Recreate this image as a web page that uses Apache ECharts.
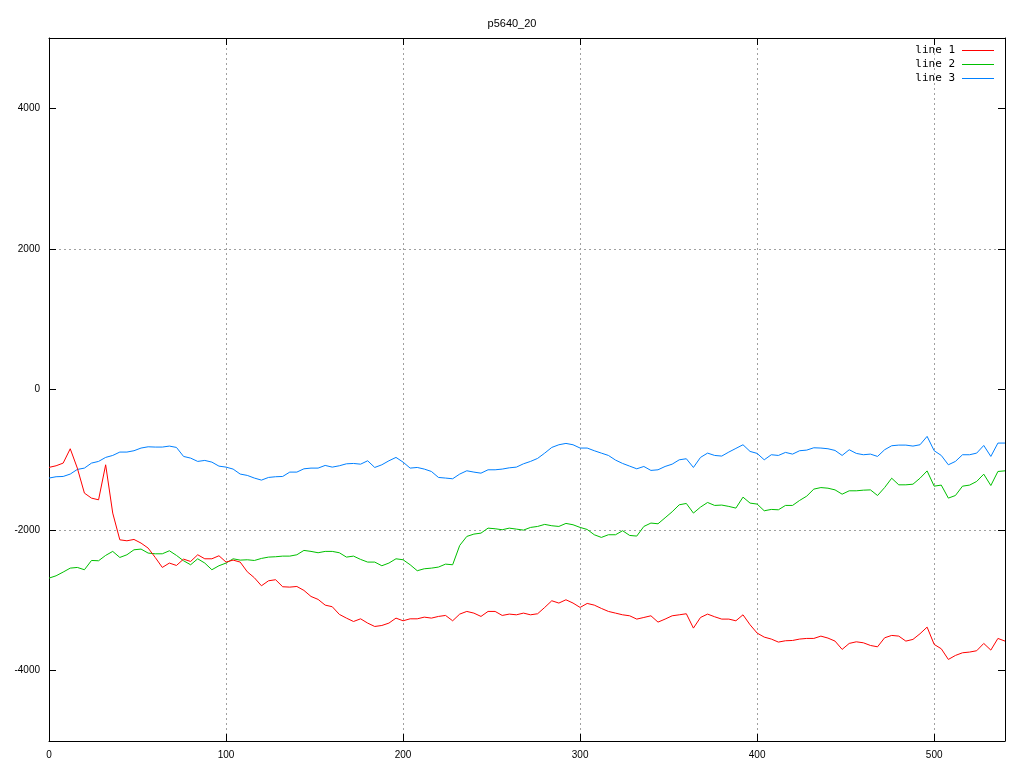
<!DOCTYPE html>
<html>
<head>
<meta charset="utf-8">
<script src="https://cdn.jsdelivr.net/npm/echarts@6/dist/echarts.min.js"></script>
<style>html,body{margin:0;padding:0;background:#fff}#c{width:1024px;height:768px}</style>
</head>
<body>
<div id="c"></div>
<script>
var title = 'p5640_20';
var seriesNames = ['line 1', 'line 2', 'line 3'];
var xTicks = [0, 100, 200, 300, 400, 500];
var yTicks = [-4000, -2000, 0, 2000, 4000];
var xs = [0,4,8,12,16,20,24,28,32,36,40,44,48,52,56,60,64,68,72,76,80,84,88,92,96,100,104,
108,112,116,120,124,128,132,136,140,144,148,152,156,160,164,168,172,176,180,184,188,192,196,200,204,208,212,
216,220,224,228,232,236,240,244,248,252,256,260,264,268,272,276,280,284,288,292,296,300,304,308,312,316,320,
324,328,332,336,340,344,348,352,356,360,364,368,372,376,380,384,388,392,396,400,404,408,412,416,420,424,428,
432,436,440,444,448,452,456,460,464,468,472,476,480,484,488,492,496,500,504,508,512,516,520,524,528,532,536,540];
var line1 = [-1108,-1085,-1047,-843,-1118,-1474,-1545,-1569,-1071,-1758,-2138,-2152,-2133,-2185,-2256,-2389,-2531,-2469,-2503,-2413,-2446,-2351,-2408,-2408,-2365,-2455,-2427,
-2455,-2593,-2678,-2792,-2721,-2706,-2806,-2811,-2802,-2858,-2944,-2986,-3067,-3090,-3199,-3252,-3300,-3262,-3323,-3371,-3357,-3323,-3252,-3290,-3262,-3262,-3238,
-3252,-3228,-3214,-3290,-3195,-3157,-3181,-3228,-3157,-3157,-3214,-3195,-3205,-3181,-3205,-3190,-3100,-3005,-3038,-2991,-3038,-3100,-3043,-3067,-3114,-3157,-3181,
-3205,-3219,-3266,-3243,-3219,-3309,-3266,-3219,-3205,-3190,-3394,-3243,-3195,-3233,-3266,-3266,-3290,-3205,-3347,-3465,-3522,-3550,-3593,-3574,-3570,-3550,-3541,
-3541,-3508,-3536,-3579,-3697,-3612,-3589,-3603,-3641,-3660,-3532,-3498,-3508,-3579,-3555,-3474,-3380,-3626,-3688,-3840,-3783,-3745,-3735,-3716,-3612,-3707,-3541,-3579];
var line2 = [-2683,-2650,-2597,-2541,-2531,-2564,-2432,-2436,-2360,-2303,-2389,-2351,-2280,-2270,-2327,-2337,-2337,-2294,-2360,-2436,-2493,-2408,-2469,-2564,-2507,-2469,-2408,
-2427,-2422,-2432,-2403,-2384,-2379,-2370,-2370,-2351,-2289,-2303,-2322,-2303,-2303,-2322,-2384,-2370,-2417,-2455,-2455,-2507,-2469,-2408,-2422,-2493,-2578,-2550,
-2541,-2526,-2484,-2493,-2218,-2090,-2057,-2043,-1972,-1981,-1995,-1972,-1986,-2000,-1962,-1948,-1919,-1938,-1948,-1905,-1924,-1962,-1991,-2066,-2104,-2066,-2066,
-2009,-2076,-2085,-1948,-1900,-1910,-1825,-1739,-1640,-1621,-1758,-1673,-1607,-1649,-1644,-1663,-1687,-1531,-1616,-1630,-1725,-1706,-1711,-1649,-1649,-1578,-1517,
-1417,-1395,-1404,-1428,-1489,-1441,-1441,-1432,-1428,-1508,-1395,-1262,-1356,-1356,-1347,-1262,-1158,-1375,-1360,-1545,-1508,-1375,-1360,-1308,-1204,-1366,-1166,-1157];
var line3 = [-1260,-1241,-1237,-1203,-1137,-1118,-1047,-1023,-966,-938,-890,-890,-871,-833,-815,-819,-819,-805,-824,-952,-976,-1023,-1009,-1033,-1090,-1104,-1132,
-1203,-1222,-1260,-1289,-1251,-1241,-1237,-1175,-1175,-1128,-1118,-1118,-1080,-1104,-1085,-1057,-1052,-1062,-1014,-1109,-1071,-1014,-966,-1033,-1118,-1109,-1132,
-1166,-1251,-1260,-1270,-1203,-1156,-1175,-1190,-1142,-1142,-1132,-1114,-1104,-1057,-1023,-980,-905,-824,-786,-767,-786,-833,-833,-871,-905,-938,-1004,
-1052,-1090,-1128,-1095,-1151,-1142,-1095,-1062,-1000,-985,-1109,-966,-905,-938,-947,-890,-838,-786,-881,-909,-1000,-928,-938,-895,-919,-871,-862,
-829,-833,-843,-867,-938,-857,-909,-928,-919,-952,-857,-800,-791,-791,-805,-786,-667,-871,-938,-1071,-1023,-928,-928,-905,-796,-952,-762,-762];
var colors = ['#ff0000', '#00c000', '#0080ff'];

function pairs(ys) { return xs.map(function (x, i) { return [x, ys[i]]; }); }

var font = 'Liberation Sans, sans-serif';
var chart = echarts.init(document.getElementById('c'), null, { renderer: 'canvas' });
var gridLine = { show: true, lineStyle: { color: '#a0a0a0', type: [2, 3], width: 1 } };
chart.setOption({
  animation: false,
  backgroundColor: '#ffffff',
  title: { text: title, left: 'center', top: 13, textStyle: { fontSize: 11, fontWeight: 'normal', color: '#000', fontFamily: font } },
  legend: {
    data: seriesNames.map(function (n, i) {
      return { name: n, icon: 'path://M0,0H32V1H0Z', itemStyle: { color: colors[i], borderWidth: 0, opacity: 1 } };
    }),
    orient: 'vertical', right: 30, top: 44, align: 'right', padding: 0,
    itemWidth: 32, itemHeight: 1, itemGap: 1,
    textStyle: { fontSize: 11, color: '#000', fontFamily: 'DejaVu Sans Mono, monospace', lineHeight: 13, padding: [0, 2, 0, 0] }
  },
  grid: { left: 49, right: 19, top: 38, bottom: 27, containLabel: false },
  xAxis: [{
    type: 'value', min: 0, max: 540, interval: 100, position: 'bottom',
    axisLine: { onZero: false, lineStyle: { color: '#000', width: 1 } },
    axisTick: { inside: true, length: 7, customValues: xTicks, lineStyle: { color: '#000' } },
    axisLabel: { customValues: xTicks, color: '#000', fontSize: 10, fontFamily: font, margin: 9 },
    splitLine: gridLine
  }, {
    type: 'value', min: 0, max: 540, interval: 100, position: 'top',
    axisLine: { onZero: false, lineStyle: { color: '#000', width: 1 } },
    axisTick: { inside: true, length: 7, customValues: xTicks, lineStyle: { color: '#000' } },
    axisLabel: { show: false }, splitLine: { show: false }
  }],
  yAxis: [{
    type: 'value', min: -5000, max: 5000, interval: 1000, position: 'left',
    axisLine: { show: true, onZero: false, lineStyle: { color: '#000', width: 1 } },
    axisTick: { show: true, inside: true, length: 7, customValues: yTicks, lineStyle: { color: '#000' } },
    axisLabel: { customValues: yTicks, color: '#000', fontSize: 10, fontFamily: font, margin: 9,
      formatter: function (v) { return String(v); } },
    splitLine: { show: true, lineStyle: { color: ['rgba(0,0,0,0)', '#a0a0a0'], type: [2, 3], width: 1 } }
  }, {
    type: 'value', min: -5000, max: 5000, interval: 1000, position: 'right',
    axisLine: { show: true, onZero: false, lineStyle: { color: '#000', width: 1 } },
    axisTick: { show: true, inside: true, length: 7, customValues: yTicks, lineStyle: { color: '#000' } },
    axisLabel: { show: false }, splitLine: { show: false }
  }],
  series: [line1, line2, line3].map(function (ys, i) {
    return {
      name: seriesNames[i], type: 'line', data: pairs(ys), symbol: 'none', color: colors[i],
      lineStyle: { width: 1, color: colors[i] }, itemStyle: { color: colors[i] },
      xAxisIndex: 0, yAxisIndex: 0, z: 3 - i
    };
  })
});
</script>
</body>
</html>
